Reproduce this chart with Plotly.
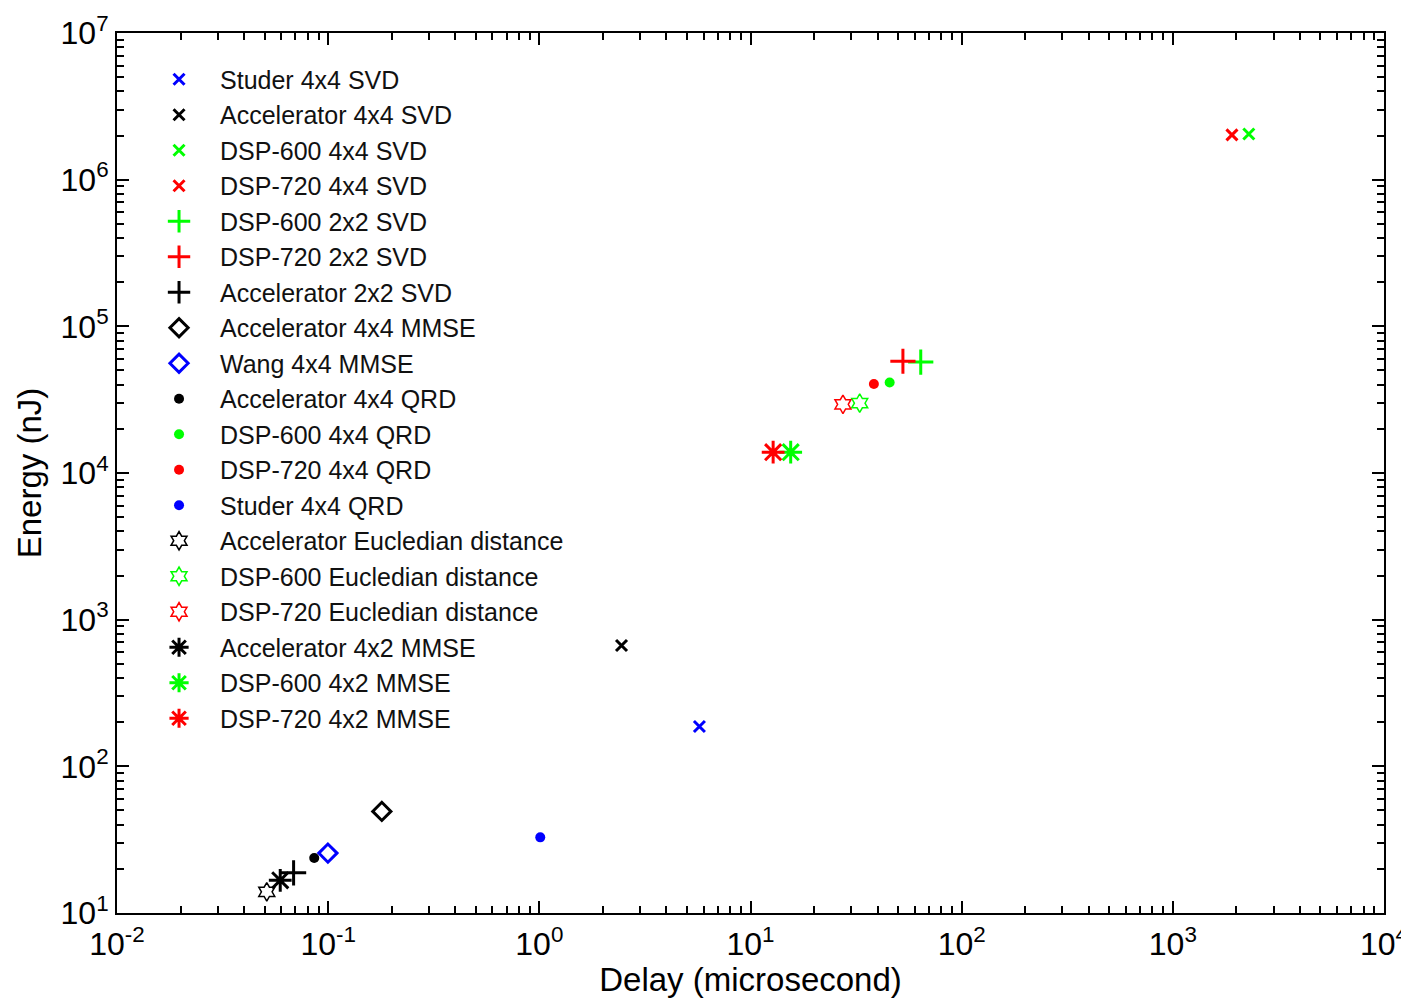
import plotly.graph_objects as go

# ---- data ----
names = [
    "Studer 4x4 SVD", "Accelerator 4x4 SVD", "DSP-600 4x4 SVD", "DSP-720 4x4 SVD",
    "DSP-600 2x2 SVD", "DSP-720 2x2 SVD", "Accelerator 2x2 SVD",
    "Accelerator 4x4 MMSE", "Wang 4x4 MMSE",
    "Accelerator 4x4 QRD", "DSP-600 4x4 QRD", "DSP-720 4x4 QRD", "Studer 4x4 QRD",
    "Accelerator Eucledian distance", "DSP-600 Eucledian distance", "DSP-720 Eucledian distance",
    "Accelerator 4x2 MMSE", "DSP-600 4x2 MMSE", "DSP-720 4x2 MMSE",
]
delay_us = [5.73, 2.45, 2290, 1905, 64.0, 52.7, 0.0686, 0.1795, 0.0997,
            0.0859, 45.6, 38.4, 1.01, 0.0512, 32.9, 27.4, 0.0593, 15.5, 12.8]
energy_nj = [187, 666, 2.05e6, 2.02e6, 57100, 57800, 18.8, 49.3, 25.6,
             23.7, 41400, 40400, 32.8, 13.95, 29900, 29400, 16.7, 13870, 13870]

BLUE, BLACK, GREEN, RED = "#0000FF", "#000000", "#00FF00", "#FF0000"
colors = [BLUE, BLACK, GREEN, RED, GREEN, RED, BLACK, BLACK, BLUE,
          BLACK, GREEN, RED, BLUE, BLACK, GREEN, RED, BLACK, GREEN, RED]
kinds = ["x", "x", "x", "x", "+", "+", "+", "d", "d",
         ".", ".", ".", ".", "h", "h", "h", "*", "*", "*"]

x_tick_exp = [-2, -1, 0, 1, 2, 3, 4]
y_tick_exp = [1, 2, 3, 4, 5, 6, 7]

# ---- styles ----
STYLE = {
    "x": dict(symbol="x-thin", size=11, lw=3),
    "+": dict(symbol="cross-thin", size=18, lw=3),
    "d": dict(symbol="diamond-open", size=14, lw=3),
    ".": dict(symbol="circle", size=10, lw=0),
    "h": dict(symbol="hexagram-open", size=14, lw=1.5),
    "*": dict(symbol="asterisk-open", size=19, lw=3),
}

fig = go.Figure()
for n, xv, yv, c, k in zip(names, delay_us, energy_nj, colors, kinds):
    st = STYLE[k]
    fig.add_trace(go.Scatter(
        x=[xv], y=[yv], mode="markers", name=n,
        marker=dict(symbol=st["symbol"], size=st["size"], color=c,
                    line=dict(color=c, width=st["lw"])),
    ))

def minor_vals(exps):
    vals = []
    for e in exps[:-1]:
        for m in range(2, 10):
            vals.append(m * 10 ** e)
    return vals

FONT = "Liberation Sans, Arial, Helvetica, sans-serif"

axis_common = dict(
    type="log", showline=True, linecolor="black", linewidth=2, mirror="ticks",
    ticks="inside", ticklen=12, tickwidth=2, tickcolor="black",
    showgrid=False, zeroline=False, tickmode="array",
    tickfont=dict(family=FONT, size=32, color="black"),
)

fig.update_xaxes(
    **axis_common,
    range=[x_tick_exp[0], x_tick_exp[-1]],
    tickvals=[10 ** e for e in x_tick_exp],
    ticktext=[f"10<sup>{e}</sup>" for e in x_tick_exp],
    ticklabelstandoff=2,
    minor=dict(tickmode="array", tickvals=minor_vals(x_tick_exp), ticks="inside",
               ticklen=7, tickwidth=1.5, tickcolor="black", showgrid=False),
    title=dict(text="Delay (microsecond)", font=dict(family=FONT, size=33, color="black"),
               standoff=10),
)
fig.update_yaxes(
    **axis_common,
    range=[y_tick_exp[0], y_tick_exp[-1]],
    tickvals=[10 ** e for e in y_tick_exp],
    ticktext=[f"10<sup>{e}</sup>" for e in y_tick_exp],
    minor=dict(tickmode="array", tickvals=minor_vals(y_tick_exp), ticks="inside",
               ticklen=7, tickwidth=1.5, tickcolor="black", showgrid=False),
    title=dict(text="Energy (nJ)", font=dict(family=FONT, size=33, color="black"),
               standoff=9),
)

fig.update_layout(
    width=1409, height=990,
    margin=dict(l=109, r=33, t=25, b=85, autoexpand=False),
    paper_bgcolor="white", plot_bgcolor="white",
    font=dict(family=FONT, color="black"),
    legend=dict(
        x=0.0166, y=0.9733, xanchor="left", yanchor="top",
        bgcolor="rgba(0,0,0,0)", borderwidth=0,
        font=dict(family=FONT, size=25, color="#111111"),
        itemsizing="trace", itemwidth=72,
    ),
)

fig.write_html("out.html")
